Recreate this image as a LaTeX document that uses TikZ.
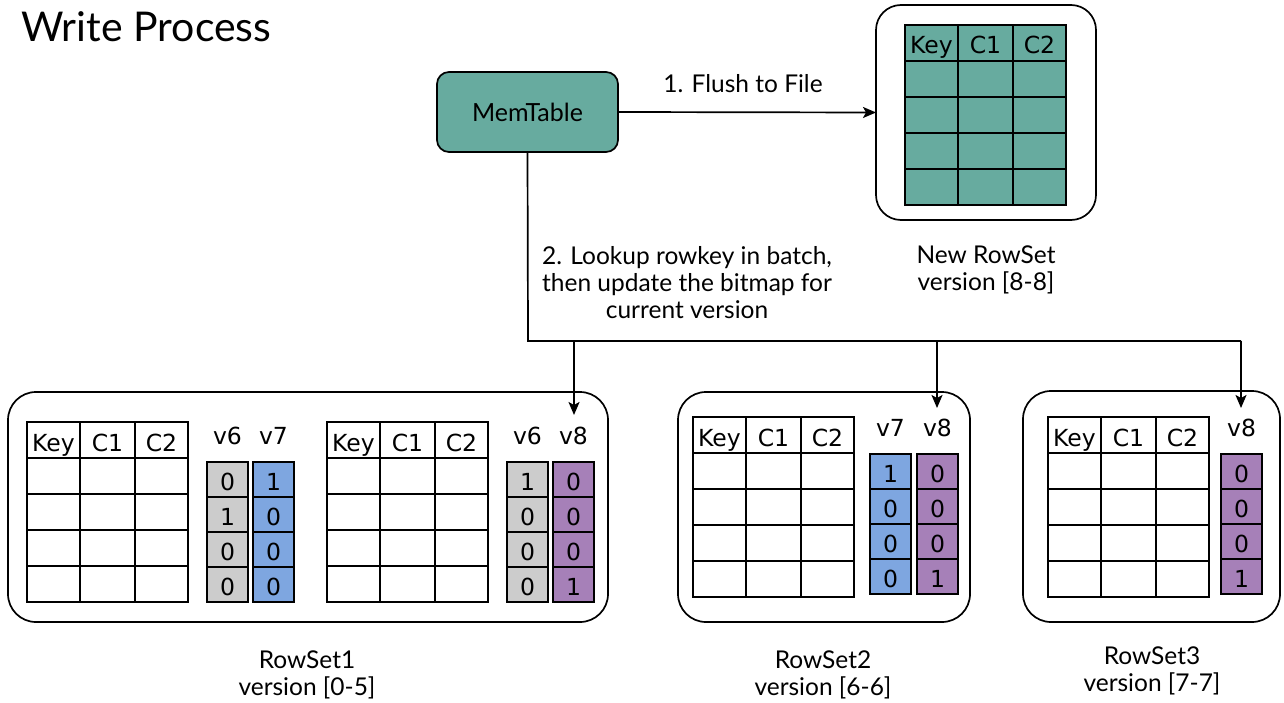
\documentclass[tikz,border=0pt]{standalone}
\usepackage{fontspec}
\setmainfont{Lato}
\newfontfamily\cellfont{DejaVu Sans}
\usetikzlibrary{arrows.meta, positioning}
\definecolor{memteal}{HTML}{67AB9F}
\definecolor{bitgray}{HTML}{CCCCCC}
\definecolor{bitblue}{HTML}{7EA6E0}
\definecolor{bitpurple}{HTML}{A680B8}

% key/value table: name, left x, top y, fill
\newcommand{\kvtable}[4]{%
  \foreach \col/\cw/\cx/\hd in {1/53/0/Key, 2/55/53/C1, 3/53/108/C2} {%
    \node[cell, fill=#4, minimum width=\cw pt, anchor=north west] (#1-h\col) at (#2+\cx, -#3) {\hd};
    \foreach \rr in {1,...,4}
      \node[cell, fill=#4, minimum width=\cw pt, anchor=north west] (#1-\rr\col) at (#2+\cx, -#3-36*\rr) {};
  }}
% bitmap column: name, left x, top y, fill, label, bits
\newcommand{\bitcol}[6]{%
  \node[vlbl] (#1-v) at (#2+20.5, -#3+26) {#5};
  \foreach \bt [count=\i from 0] in {#6}
    \node[bit, fill=#4, anchor=north west] (#1-\i) at (#2, -#3-35*\i) {\bt};
}

\begin{document}
\begin{tikzpicture}[x=1pt, y=1pt,
  cell/.style={draw, line width=1.7pt, outer sep=0pt, inner sep=0pt,
    minimum height=36pt, text height=22pt, text depth=0pt,
    font=\cellfont\fontsize{23.5pt}{25pt}\selectfont},
  bit/.style={draw, line width=1.7pt, outer sep=0pt, inner sep=0pt,
    minimum width=41pt, minimum height=35pt, text height=22pt, text depth=0pt,
    font=\cellfont\fontsize{23.5pt}{25pt}\selectfont},
  vlbl/.style={font=\cellfont\fontsize{23.5pt}{25pt}\selectfont, inner sep=0pt},
  setbox/.style={draw, line width=1.7pt, rounded corners=28pt, outer sep=0pt},
  lbl/.style={font=\fontsize{24.5pt}{27pt}\selectfont, align=center, inner sep=0pt},
  arr/.style={-{Stealth[length=13pt, width=11pt, inset=3pt]}, line width=1.7pt},
  link/.style={line width=1.7pt}
]
\useasboundingbox (0,0) rectangle (1284,-703);

\node[font=\fontsize{41pt}{44pt}\selectfont, anchor=west, inner sep=0pt] (title) at (21,-27) {Write Process};

% memtable and the flushed rowset
\node[draw, line width=1.7pt, fill=memteal, rounded corners=12pt, outer sep=0pt,
      minimum width=181pt, minimum height=80pt, font=\fontsize{25pt}{27pt}\selectfont] (mem) at (527.5,-112) {MemTable};
\node[setbox, rounded corners=25pt, minimum width=220pt, minimum height=215pt] (newset) at (986,-112.5) {};
\kvtable{t0}{905}{25}{memteal}
\node[lbl] (newlbl) at (986,-270) {New RowSet\\version [8-8]};
\draw[arr] (mem.east) -- (newset.west);
\node[lbl] (flushlbl) at (743,-84) {1. Flush to File};

% existing rowsets
\node[setbox, minimum width=600pt, minimum height=230pt] (rs1) at (308,-507) {};
\node[setbox, minimum width=292pt, minimum height=230pt] (rs2) at (824,-507) {};
\node[setbox, minimum width=257pt, minimum height=231pt] (rs3) at (1151.5,-506.5) {};

\kvtable{t1}{27}{422}{white}
\bitcol{b1a}{207}{462}{bitgray}{v6}{0,1,0,0}
\bitcol{b1b}{253}{462}{bitblue}{v7}{1,0,0,0}
\kvtable{t2}{327}{422}{white}
\bitcol{b2a}{507}{462}{bitgray}{v6}{1,0,0,0}
\bitcol{b2b}{553}{462}{bitpurple}{v8}{0,0,0,1}

\kvtable{t3}{693}{417}{white}
\bitcol{b3a}{870}{454}{bitblue}{v7}{1,0,0,0}
\bitcol{b3b}{917}{454}{bitpurple}{v8}{0,0,0,1}

\kvtable{t4}{1048}{417}{white}
\bitcol{b4a}{1221}{454}{bitpurple}{v8}{0,0,0,1}

\node[lbl] (rs1lbl) at (307,-675) {RowSet1\\version [0-5]};
\node[lbl] (rs2lbl) at (823,-675) {RowSet2\\version [6-6]};
\node[lbl] (rs3lbl) at (1152,-671) {RowSet3\\version [7-7]};

% lookup and bitmap update
\coordinate (bus0) at (528,-341);
\coordinate (bus1) at (574,-341);
\coordinate (bus2) at (937,-341);
\coordinate (bus3) at (1241,-341);
\coordinate (in1) at (574,-415);
\coordinate (in2) at (937,-408);
\coordinate (in3) at (1241,-408);
\draw[link] (mem.south) -- (bus0) -- (bus3);
\draw[arr] (bus1) -- (in1);
\draw[arr] (bus2) -- (in2);
\draw[arr] (bus3) -- (in3);
\node[lbl] (lookuplbl) at (687,-283) {2. Lookup rowkey in batch,\\then update the bitmap for\\current version};
\end{tikzpicture}
\end{document}
